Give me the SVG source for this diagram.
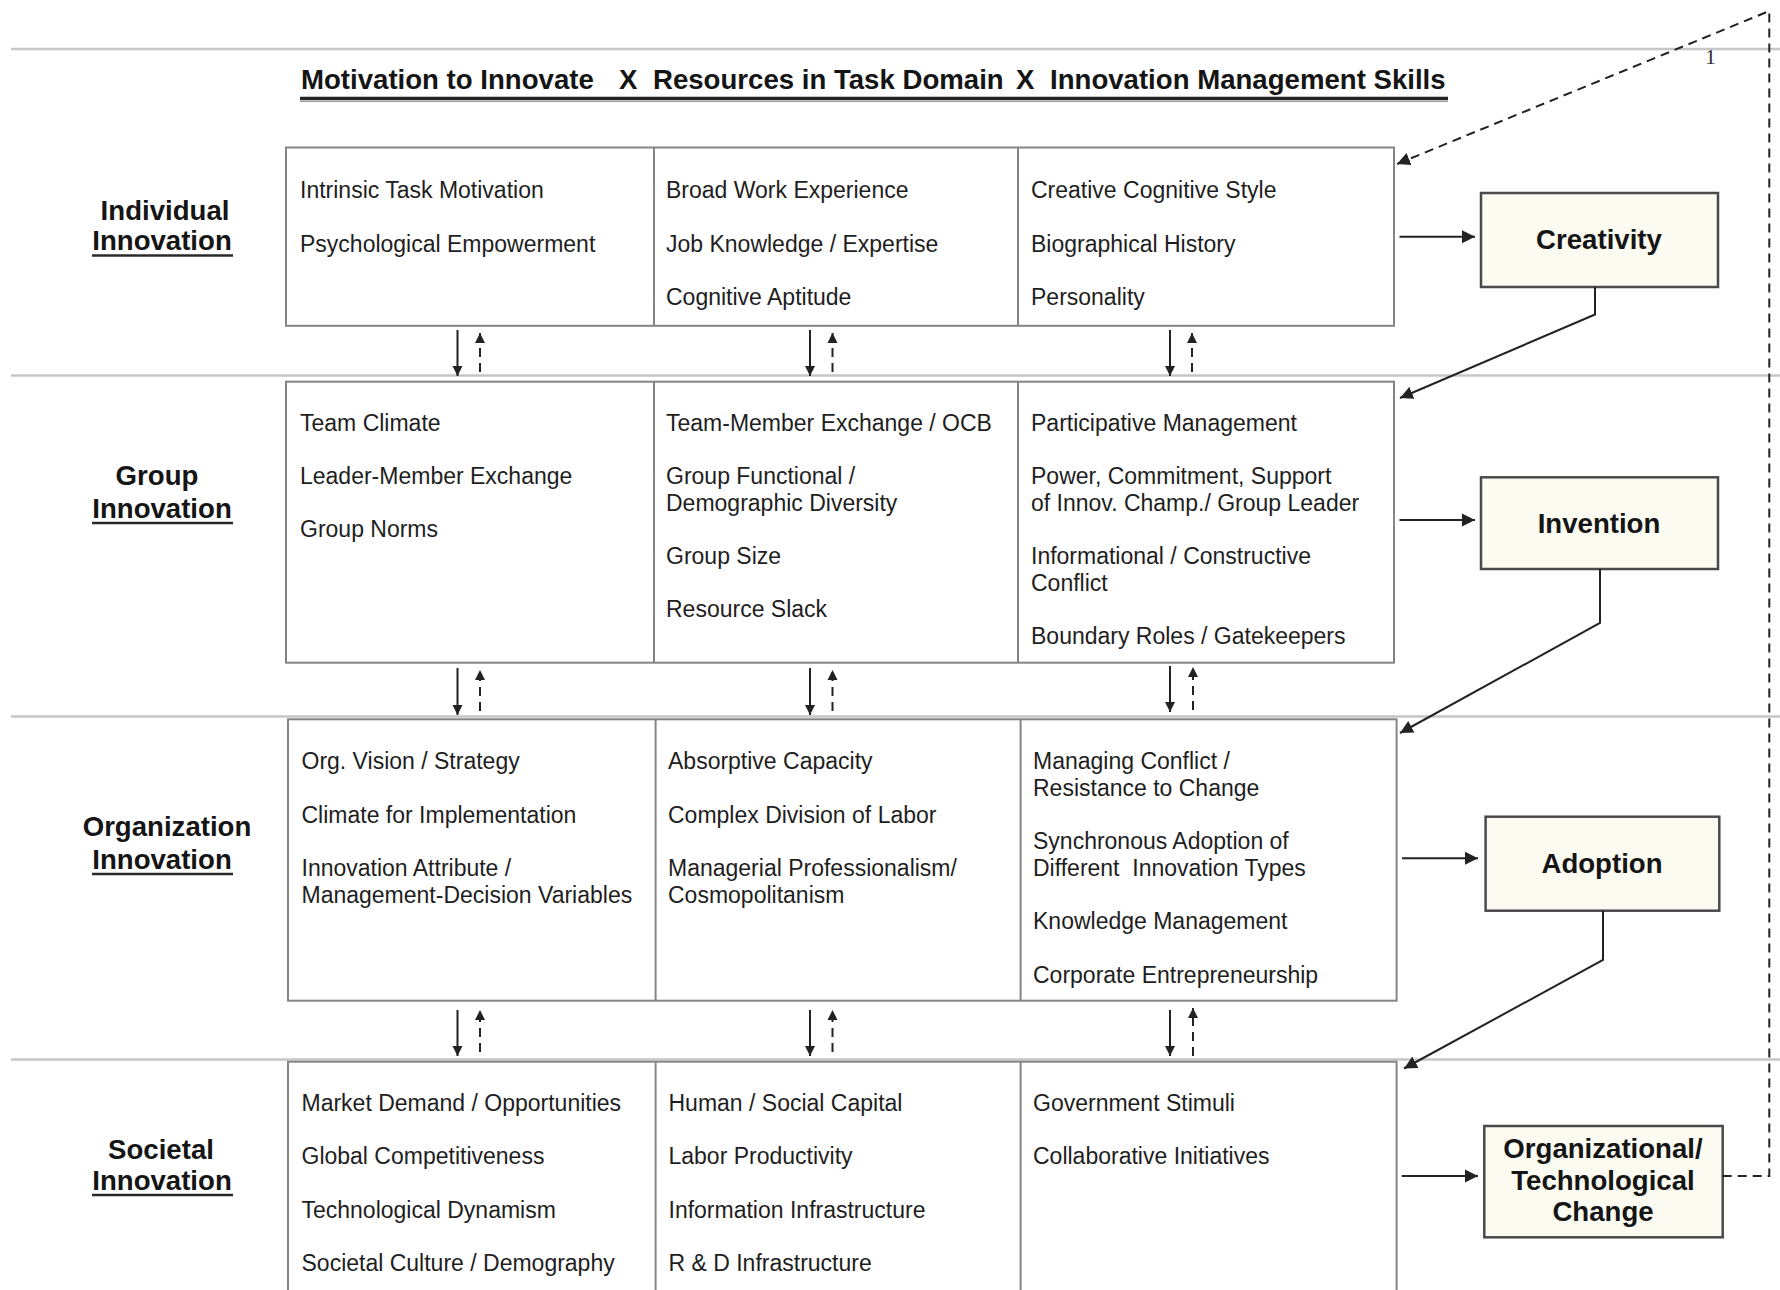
<svg xmlns="http://www.w3.org/2000/svg" width="1780" height="1290" viewBox="0 0 1780 1290">
<style>
.t{font-family:"Liberation Sans",Arial,Helvetica,sans-serif;font-size:23px;fill:#1e1e1e}
.b{font-family:"Liberation Sans",Arial,Helvetica,sans-serif;font-weight:bold;font-size:27.6px;fill:#151515}
.box{fill:#fff;stroke:#858585;stroke-width:2}
.div{stroke:#858585;stroke-width:2}
.out{fill:#fbfbf1;stroke:#4a4a4a;stroke-width:2.5}
.sep{stroke:#c6c6c6;stroke-width:2.5}
.ul{stroke:#2a2a2a;stroke-width:2.5}
.conn{stroke:#222;stroke-width:2;fill:none}
.dash{stroke-dasharray:9 6}
</style>
<defs>
<marker id="ah" markerUnits="userSpaceOnUse" markerWidth="14" markerHeight="14" viewBox="0 0 14 14" refX="13" refY="7" orient="auto"><path d="M0,0.5 L13,7 L0,13.5 z" fill="#222"/></marker>
<marker id="as" markerUnits="userSpaceOnUse" markerWidth="11" markerHeight="11" viewBox="0 0 11 11" refX="10" refY="5.5" orient="auto"><path d="M0,0.5 L10,5.5 L0,10.5 z" fill="#222"/></marker>
</defs>
<rect width="1780" height="1290" fill="#fff"/>

<g id="rules">
<line class="sep" x1="11" y1="49" x2="1780" y2="49"/>
<line class="sep" x1="11" y1="375.5" x2="1780" y2="375.5"/>
<line class="sep" x1="11" y1="716.5" x2="1780" y2="716.5"/>
<line class="sep" x1="11" y1="1059.5" x2="1780" y2="1059.5"/>
</g>

<g id="page-number"><text x="1705" y="64" style="font-family:'Liberation Serif',serif;font-size:22px;fill:#333">1</text></g>

<g id="title">
<text class="b" y="89"><tspan x="301">Motivation to Innovate</tspan><tspan x="619">X</tspan><tspan x="653">Resources in Task Domain</tspan><tspan x="1016">X</tspan><tspan x="1050">Innovation Management Skills</tspan></text>
<line x1="300" y1="98.5" x2="1448" y2="98.5" stroke="#222" stroke-width="3.5"/>
<line x1="300" y1="101.5" x2="1448" y2="101.5" stroke="#999" stroke-width="1.2"/>
</g>

<!-- Row labels -->
<g id="label-individual">
<text class="b" x="165" y="220" text-anchor="middle">Individual</text>
<text class="b" x="162" y="250" text-anchor="middle">Innovation</text>
<line class="ul" x1="92" y1="255.5" x2="233" y2="255.5"/>
</g>
<g id="label-group">
<text class="b" x="157" y="485" text-anchor="middle">Group</text>
<text class="b" x="162" y="518" text-anchor="middle">Innovation</text>
<line class="ul" x1="92" y1="523" x2="233" y2="523"/>
</g>
<g id="label-organization">
<text class="b" x="167" y="836" text-anchor="middle">Organization</text>
<text class="b" x="162" y="869" text-anchor="middle">Innovation</text>
<line class="ul" x1="92" y1="874" x2="233" y2="874"/>
</g>
<g id="label-societal">
<text class="b" x="161" y="1159" text-anchor="middle">Societal</text>
<text class="b" x="162" y="1190" text-anchor="middle">Innovation</text>
<line class="ul" x1="92" y1="1195" x2="233" y2="1195"/>
</g>

<!-- Row 1 -->
<g id="row-individual">
<rect class="box" x="286" y="147.5" width="1108" height="178.3"/>
<line class="div" x1="654" y1="147.5" x2="654" y2="325.8"/>
<line class="div" x1="1018" y1="147.5" x2="1018" y2="325.8"/>
<g id="ind-motivation">
<text class="t" x="300" y="198.3">Intrinsic Task Motivation</text>
<text class="t" x="300" y="251.7">Psychological Empowerment</text>
</g>
<g id="ind-resources">
<text class="t" x="666" y="198.3">Broad Work Experience</text>
<text class="t" x="666" y="251.7">Job Knowledge / Expertise</text>
<text class="t" x="666" y="305">Cognitive Aptitude</text>
</g>
<g id="ind-skills">
<text class="t" x="1031" y="198.3">Creative Cognitive Style</text>
<text class="t" x="1031" y="251.7">Biographical History</text>
<text class="t" x="1031" y="305">Personality</text>
</g>
</g>

<!-- Row 2 -->
<g id="row-group">
<rect class="box" x="286" y="381.7" width="1108" height="281"/>
<line class="div" x1="654" y1="381.7" x2="654" y2="662.7"/>
<line class="div" x1="1018" y1="381.7" x2="1018" y2="662.7"/>
<g id="grp-motivation">
<text class="t" x="300" y="430.7">Team Climate</text>
<text class="t" x="300" y="484">Leader-Member Exchange</text>
<text class="t" x="300" y="537.4">Group Norms</text>
</g>
<g id="grp-resources">
<text class="t" x="666" y="430.7">Team-Member Exchange / OCB</text>
<text class="t" x="666" y="484">Group Functional /</text>
<text class="t" x="666" y="510.7">Demographic Diversity</text>
<text class="t" x="666" y="564">Group Size</text>
<text class="t" x="666" y="617.4">Resource Slack</text>
</g>
<g id="grp-skills">
<text class="t" x="1031" y="430.7">Participative Management</text>
<text class="t" x="1031" y="484">Power, Commitment, Support</text>
<text class="t" x="1031" y="510.7">of Innov. Champ./ Group Leader</text>
<text class="t" x="1031" y="564">Informational / Constructive</text>
<text class="t" x="1031" y="590.7">Conflict</text>
<text class="t" x="1031" y="644">Boundary Roles / Gatekeepers</text>
</g>
</g>

<!-- Row 3 -->
<g id="row-organization">
<rect class="box" x="288" y="719.3" width="1108.6" height="281.4"/>
<line class="div" x1="655.6" y1="719.3" x2="655.6" y2="1000.7"/>
<line class="div" x1="1020.6" y1="719.3" x2="1020.6" y2="1000.7"/>
<g id="org-motivation">
<text class="t" x="301.5" y="769.3">Org. Vision / Strategy</text>
<text class="t" x="301.5" y="822.7">Climate for Implementation</text>
<text class="t" x="301.5" y="876">Innovation Attribute /</text>
<text class="t" x="301.5" y="902.7">Management-Decision Variables</text>
</g>
<g id="org-resources">
<text class="t" x="668" y="769.3">Absorptive Capacity</text>
<text class="t" x="668" y="822.7">Complex Division of Labor</text>
<text class="t" x="668" y="876">Managerial Professionalism/</text>
<text class="t" x="668" y="902.7">Cosmopolitanism</text>
</g>
<g id="org-skills">
<text class="t" x="1033" y="769.3">Managing Conflict /</text>
<text class="t" x="1033" y="796">Resistance to Change</text>
<text class="t" x="1033" y="849.3">Synchronous Adoption of</text>
<text class="t" x="1033" y="876" xml:space="preserve">Different  Innovation Types</text>
<text class="t" x="1033" y="929.3">Knowledge Management</text>
<text class="t" x="1033" y="982.7">Corporate Entrepreneurship</text>
</g>
</g>

<!-- Row 4 -->
<g id="row-societal">
<rect class="box" x="288" y="1061.7" width="1108.6" height="260"/>
<line class="div" x1="655.6" y1="1061.7" x2="655.6" y2="1300"/>
<line class="div" x1="1020.6" y1="1061.7" x2="1020.6" y2="1300"/>
<g id="soc-motivation">
<text class="t" x="301.5" y="1111">Market Demand / Opportunities</text>
<text class="t" x="301.5" y="1164.4">Global Competitiveness</text>
<text class="t" x="301.5" y="1217.8">Technological Dynamism</text>
<text class="t" x="301.5" y="1271.2">Societal Culture / Demography</text>
</g>
<g id="soc-resources">
<text class="t" x="668.5" y="1111">Human / Social Capital</text>
<text class="t" x="668.5" y="1164.4">Labor Productivity</text>
<text class="t" x="668.5" y="1217.8">Information Infrastructure</text>
<text class="t" x="668.5" y="1271.2">R &amp; D Infrastructure</text>
</g>
<g id="soc-skills">
<text class="t" x="1033" y="1111">Government Stimuli</text>
<text class="t" x="1033" y="1164.4">Collaborative Initiatives</text>
</g>
</g>

<!-- Outcome boxes -->
<g id="creativity">
<rect class="out" x="1481" y="193" width="237" height="94"/>
<text class="b" x="1599" y="249" text-anchor="middle">Creativity</text>
</g>
<g id="invention">
<rect class="out" x="1481" y="477.3" width="237" height="91.7"/>
<text class="b" x="1599" y="533" text-anchor="middle">Invention</text>
</g>
<g id="adoption">
<rect class="out" x="1485.6" y="816.7" width="233.7" height="94"/>
<text class="b" x="1602" y="873.3" text-anchor="middle">Adoption</text>
</g>
<g id="change">
<rect class="out" x="1484.3" y="1126" width="238.4" height="111.3"/>
<text class="b" x="1603" y="1158.3" text-anchor="middle">Organizational/</text>
<text class="b" x="1603" y="1190" text-anchor="middle">Technological</text>
<text class="b" x="1603" y="1220.7" text-anchor="middle">Change</text>
</g>

<g id="connectors">
<!-- to outcomes -->
<line class="conn" x1="1399.5" y1="236.7" x2="1475" y2="236.7" marker-end="url(#ah)"/>
<line class="conn" x1="1399.5" y1="520" x2="1475" y2="520" marker-end="url(#ah)"/>
<line class="conn" x1="1402" y1="858.3" x2="1478" y2="858.3" marker-end="url(#ah)"/>
<line class="conn" x1="1401.7" y1="1176" x2="1478" y2="1176" marker-end="url(#ah)"/>
<!-- outcomes to next level -->
<polyline class="conn" points="1595,287 1595,314.5 1400,398" marker-end="url(#ah)"/>
<polyline class="conn" points="1600,569 1600,623 1400,733" marker-end="url(#ah)"/>
<polyline class="conn" points="1603,910.7 1603,960 1404,1068.5" marker-end="url(#ah)"/>
<!-- feedback -->
<polyline class="conn dash" points="1722.7,1176 1769.3,1176 1769.3,11 1397,164" marker-end="url(#ah)"/>
<!-- vertical arrows rows 1-2 -->
<line class="conn" x1="457.5" y1="330" x2="457.5" y2="376" marker-end="url(#as)"/>
<line class="conn dash" x1="480" y1="372" x2="480" y2="333" stroke-dasharray="8 5" marker-end="url(#as)"/>
<line class="conn" x1="810" y1="330" x2="810" y2="376" marker-end="url(#as)"/>
<line class="conn dash" x1="832.5" y1="372" x2="832.5" y2="333" stroke-dasharray="8 5" marker-end="url(#as)"/>
<line class="conn" x1="1170" y1="330" x2="1170" y2="376" marker-end="url(#as)"/>
<line class="conn dash" x1="1192" y1="372" x2="1192" y2="333" stroke-dasharray="8 5" marker-end="url(#as)"/>
<!-- rows 2-3 -->
<line class="conn" x1="457.5" y1="668" x2="457.5" y2="715" marker-end="url(#as)"/>
<line class="conn dash" x1="480" y1="711" x2="480" y2="670" stroke-dasharray="8 5" marker-end="url(#as)"/>
<line class="conn" x1="810" y1="668" x2="810" y2="715" marker-end="url(#as)"/>
<line class="conn dash" x1="832.5" y1="711" x2="832.5" y2="670" stroke-dasharray="8 5" marker-end="url(#as)"/>
<line class="conn" x1="1170" y1="666" x2="1170" y2="712" marker-end="url(#as)"/>
<line class="conn dash" x1="1193" y1="710" x2="1193" y2="667" stroke-dasharray="8 5" marker-end="url(#as)"/>
<!-- rows 3-4 -->
<line class="conn" x1="457.5" y1="1010" x2="457.5" y2="1056" marker-end="url(#as)"/>
<line class="conn dash" x1="480" y1="1052" x2="480" y2="1010" stroke-dasharray="8 5" marker-end="url(#as)"/>
<line class="conn" x1="810" y1="1010" x2="810" y2="1056" marker-end="url(#as)"/>
<line class="conn dash" x1="832.5" y1="1052" x2="832.5" y2="1010" stroke-dasharray="8 5" marker-end="url(#as)"/>
<line class="conn" x1="1170" y1="1010" x2="1170" y2="1056" marker-end="url(#as)"/>
<line class="conn dash" x1="1193" y1="1056" x2="1193" y2="1008" stroke-dasharray="8 5" marker-end="url(#as)"/>
</g>
</svg>
